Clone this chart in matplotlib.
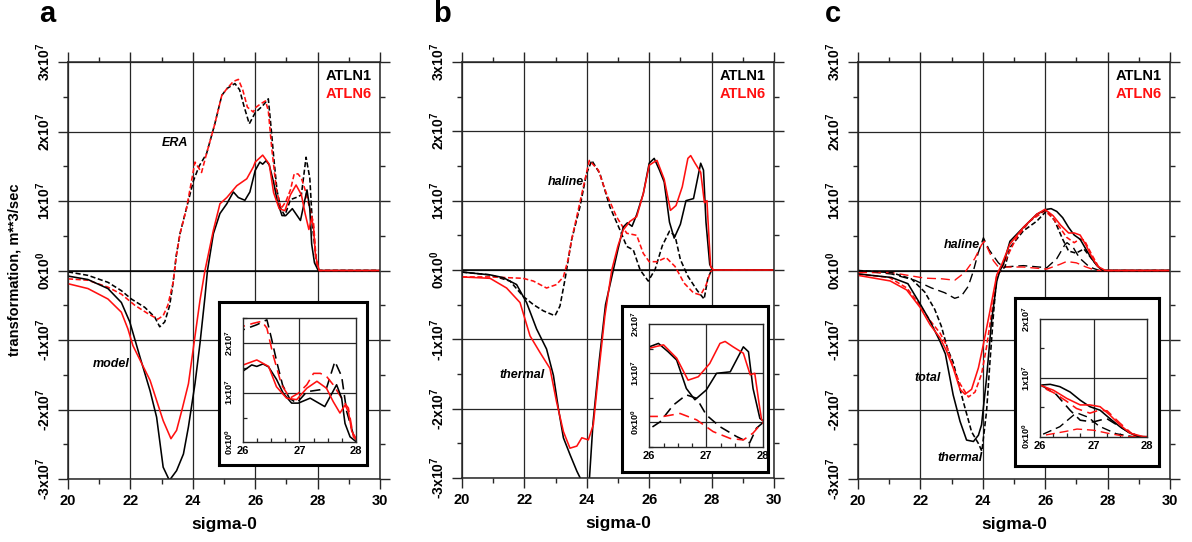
import matplotlib
matplotlib.use("Agg")
import matplotlib.pyplot as plt
from matplotlib.ticker import MultipleLocator, FixedLocator, FuncFormatter

plt.rcParams['font.family'] = ['Liberation Sans', 'DejaVu Sans']
plt.rcParams['font.weight'] = 'bold'
plt.rcParams['mathtext.fontset'] = 'custom'
plt.rcParams['mathtext.rm'] = 'Liberation Sans:bold'
plt.rcParams['mathtext.it'] = 'Liberation Sans:bold:italic'
plt.rcParams['mathtext.bf'] = 'Liberation Sans:bold'
plt.rcParams['mathtext.default'] = 'rm'

# ---------------- data (values in units of 1e7 m**3/sec) ----------------
# Panel a: model (solid) and ERA (dashed)
a_model_atln1_x = [20, 20.64, 21.28, 21.71, 21.98, 22.31, 22.63, 22.84, 23.05, 23.25, 23.48, 23.7, 23.86,
                   24.07, 24.23, 24.39, 24.47, 24.66, 24.87, 25.09, 25.3, 25.46, 25.67, 25.83, 26.0, 26.15,
                   26.24, 26.35, 26.45, 26.59, 26.71, 26.86, 26.98, 27.19, 27.45, 27.66, 27.75, 27.81,
                   27.9, 28.02, 30]
a_model_atln1_y = [-0.08, -0.13, -0.26, -0.46, -0.74, -1.25, -1.73, -2.11, -2.83, -3.02, -2.88, -2.64, -2.25,
                   -1.63, -1.05, -0.38, 0.0, 0.53, 0.82, 0.96, 1.13, 1.05, 1.01, 1.13, 1.44, 1.56,
                   1.53, 1.58, 1.52, 1.27, 0.99, 0.79, 0.79, 0.89, 0.72, 1.16, 0.89, 0.38,
                   0.11, 0.0, 0.0]
a_model_atln6_x = [20, 20.64, 21.28, 21.71, 21.92, 22.08, 22.31, 22.63, 22.84, 23.05, 23.3, 23.48, 23.65,
                   23.86, 24.05, 24.23, 24.39, 24.66, 24.87, 25.09, 25.41, 25.73, 25.94, 26.0, 26.24,
                   26.45, 26.59, 26.77, 26.95, 27.13, 27.31, 27.48, 27.6, 27.72, 27.81, 27.87, 27.93,
                   28.05, 30]
a_model_atln6_y = [-0.19, -0.26, -0.41, -0.6, -0.84, -1.08, -1.29, -1.58, -1.87, -2.16, -2.42, -2.3, -2.01,
                   -1.63, -1.01, -0.43, 0.0, 0.58, 0.96, 1.05, 1.22, 1.32, 1.49, 1.56, 1.66,
                   1.53, 1.12, 0.89, 0.86, 1.09, 1.23, 1.09, 0.82, 0.59, 0.75, 0.62, 0.22,
                   0.0, 0.0]
a_era_atln1_x = [20, 20.64, 21.28, 21.71, 22.03, 22.46, 22.78, 22.94, 23.1, 23.26, 23.37, 23.47, 23.59,
                 23.8, 24.02, 24.2, 24.44, 24.7, 24.93, 25.1, 25.35, 25.5, 25.65, 25.81, 26.0, 26.24,
                 26.42, 26.5, 26.6, 26.7, 26.82, 26.95, 27.13, 27.37, 27.48, 27.63, 27.75, 27.84,
                 27.96, 28.05, 30]
a_era_atln1_y = [-0.02, -0.07, -0.17, -0.29, -0.41, -0.53, -0.67, -0.81, -0.74, -0.5, -0.17, 0.22, 0.53,
                 0.9, 1.29, 1.5, 1.68, 2.1, 2.52, 2.62, 2.69, 2.6, 2.35, 2.11, 2.27, 2.37,
                 2.47, 2.1, 1.6, 1.15, 0.89, 0.79, 1.02, 1.06, 1.09, 1.63, 1.33, 0.62,
                 0.15, 0.0, 0.0]
a_era_atln6_x = [20, 20.64, 21.28, 21.71, 22.14, 22.56, 22.88, 23.05, 23.2, 23.37, 23.47, 23.59, 23.8,
                 24.07, 24.28, 24.44, 24.7, 24.93, 25.1, 25.3, 25.46, 25.6, 25.75, 25.94, 26.0, 26.18,
                 26.33, 26.42, 26.53, 26.68, 26.83, 26.98, 27.13, 27.25, 27.37, 27.48, 27.6, 27.75,
                 27.83, 27.87, 27.96, 28.05, 30]
a_era_atln6_y = [-0.12, -0.14, -0.24, -0.34, -0.5, -0.62, -0.7, -0.65, -0.5, -0.17, 0.2, 0.53, 0.9,
                 1.56, 1.41, 1.68, 2.1, 2.52, 2.62, 2.72, 2.75, 2.6, 2.35, 2.28, 2.34, 2.4,
                 2.44, 2.3, 1.76, 1.16, 0.89, 0.99, 1.16, 1.39, 1.39, 1.33, 1.16, 0.89,
                 0.75, 0.69, 0.11, 0.0, 0.0]

# Panel b: thermal (solid) and haline (dashed)
b_thermal_atln1_x = [20, 20.9, 21.32, 21.75, 22.07, 22.39, 22.71, 22.93, 23.09, 23.25, 23.46, 23.68, 23.94,
                     24.05, 24.2, 24.4, 24.6, 24.85, 25.0, 25.17, 25.3, 25.45, 25.6, 25.81, 26.0, 26.16,
                     26.33, 26.48, 26.65, 26.8, 27.0, 27.18, 27.42, 27.65, 27.74, 27.82, 27.94, 28.03, 30]
b_thermal_atln1_y = [-0.03, -0.07, -0.11, -0.21, -0.47, -0.85, -1.14, -1.52, -2.0, -2.42, -2.66, -2.9, -3.14,
                     -3.25, -2.2, -1.3, -0.5, 0.0, 0.3, 0.62, 0.68, 0.63, 0.8, 1.1, 1.54, 1.61,
                     1.44, 1.27, 0.69, 0.46, 0.66, 1.0, 1.03, 1.54, 1.44, 0.69, 0.08, 0.0, 0.0]
b_thermal_atln6_x = [20, 20.9, 21.43, 21.86, 22.18, 22.5, 22.82, 23.03, 23.25, 23.46, 23.68, 23.84, 24.05,
                     24.21, 24.37, 24.58, 24.8, 25.0, 25.17, 25.38, 25.6, 25.81, 26.0, 26.13, 26.25,
                     26.48, 26.68, 26.86, 27.06, 27.24, 27.33, 27.47, 27.65, 27.77, 27.85, 27.93, 27.97,
                     28.06, 30]
b_thermal_atln6_y = [-0.1, -0.12, -0.26, -0.47, -0.95, -1.19, -1.42, -1.9, -2.33, -2.57, -2.54, -2.42, -2.45,
                     -2.23, -1.52, -0.66, 0.0, 0.35, 0.58, 0.7, 0.77, 1.1, 1.51, 1.55, 1.58,
                     1.31, 0.86, 0.93, 1.2, 1.61, 1.65, 1.54, 1.41, 0.97, 1.0, 0.35, 0.05,
                     0.0, 0.0]
b_haline_atln1_x = [20, 20.9, 21.54, 21.96, 22.29, 22.61, 22.98, 23.14, 23.3, 23.51, 23.78, 23.99, 24.16,
                    24.42, 24.74, 25.06, 25.28, 25.49, 25.71, 25.97, 26.19, 26.42, 26.65, 26.83, 27.0,
                    27.24, 27.53, 27.76, 27.88, 28.0, 30]
b_haline_atln1_y = [-0.03, -0.07, -0.16, -0.38, -0.5, -0.59, -0.66, -0.52, -0.14, 0.43, 0.91, 1.39, 1.58,
                    1.39, 0.91, 0.58, 0.34, 0.29, 0.0, -0.16, 0.01, 0.35, 0.56, 0.49, 0.15,
                    -0.09, -0.29, -0.42, -0.12, 0.0, 0.0]
b_haline_atln6_x = [20, 20.9, 21.96, 22.29, 22.71, 23.03, 23.25, 23.4, 23.51, 23.84, 24.08, 24.37, 24.63,
                    24.95, 25.28, 25.6, 25.81, 26.0, 26.25, 26.54, 26.83, 27.12, 27.42, 27.65, 27.82,
                    27.97, 28.05, 30]
b_haline_atln6_y = [-0.1, -0.1, -0.12, -0.16, -0.26, -0.21, -0.1, 0.15, 0.43, 1.1, 1.58, 1.44, 1.1,
                    0.77, 0.53, 0.5, 0.24, 0.12, 0.12, 0.18, 0.05, -0.19, -0.33, -0.36, -0.22,
                    -0.02, 0.0, 0.0]

# Panel c: total (solid), thermal (short dash), haline (long dash)
c_total_atln1_x = [20, 21.07, 21.6, 22.03, 22.31, 22.63, 22.8, 23.05, 23.27, 23.48, 23.7, 23.86, 23.96,
                   24.12, 24.28, 24.45, 24.55, 24.66, 24.87, 25.3, 25.73, 26.05, 26.19, 26.37, 26.56,
                   26.75, 26.93, 27.12, 27.3, 27.49, 27.68, 27.86, 30]
c_total_atln1_y = [-0.05, -0.1, -0.19, -0.51, -0.73, -1.02, -1.2, -1.79, -2.17, -2.44, -2.46, -2.37, -2.22,
                   -1.55, -0.73, -0.15, 0.0, 0.09, 0.42, 0.62, 0.81, 0.88, 0.89, 0.85, 0.76,
                   0.62, 0.51, 0.45, 0.31, 0.17, 0.06, 0.0, 0.0]
c_total_atln6_x = [20, 21.03, 21.56, 21.99, 22.31, 22.63, 22.84, 23.05, 23.27, 23.43, 23.64, 23.86, 24.02,
                   24.23, 24.45, 24.61, 24.87, 25.3, 25.73, 25.99, 26.25, 26.5, 26.75, 26.93, 27.12,
                   27.3, 27.49, 27.68, 27.93, 30]
c_total_atln6_y = [-0.07, -0.15, -0.28, -0.53, -0.78, -0.97, -1.16, -1.4, -1.71, -1.78, -1.71, -1.4, -1.06,
                   -0.58, -0.06, 0.09, 0.38, 0.62, 0.81, 0.88, 0.79, 0.65, 0.54, 0.54, 0.51,
                   0.37, 0.2, 0.06, 0.0, 0.0]
c_thermal_atln1_x = [20, 21.07, 21.71, 22.14, 22.46, 22.67, 22.88, 23.05, 23.37, 23.64, 23.86, 23.97, 24.12,
                     24.23, 24.34, 24.45, 24.71, 24.87, 25.3, 25.73, 26.05, 26.3, 26.56, 26.75, 26.99,
                     27.24, 27.49, 27.68, 27.85, 30]
c_thermal_atln1_y = [0.0, -0.03, -0.12, -0.31, -0.56, -0.8, -1.14, -1.32, -1.88, -2.32, -2.49, -2.6, -2.03,
                     -1.31, -0.64, -0.06, 0.05, 0.33, 0.57, 0.71, 0.86, 0.72, 0.45, 0.28, 0.25,
                     0.31, 0.17, 0.06, 0.0, 0.0]
c_thermal_atln6_x = [20, 21.0, 21.56, 21.99, 22.31, 22.63, 22.84, 23.05, 23.27, 23.54, 23.75, 23.96, 24.12,
                     24.28, 24.45, 24.66, 25.09, 25.51, 25.99, 26.25, 26.5, 26.68, 26.93, 27.1, 27.25,
                     27.49, 27.74, 27.9, 30]
c_thermal_atln6_y = [-0.05, -0.1, -0.25, -0.5, -0.72, -0.9, -1.08, -1.39, -1.63, -1.82, -1.75, -1.49, -1.1,
                     -0.62, -0.09, 0.09, 0.48, 0.71, 0.86, 0.75, 0.6, 0.48, 0.4, 0.45, 0.44,
                     0.23, 0.03, 0.0, 0.0]
c_haline_atln1_x = [20, 21.07, 21.82, 22.35, 22.78, 23.1, 23.31, 23.53, 23.69, 23.85, 24.02, 24.2, 24.5,
                    24.66, 25.3, 26.05, 26.37, 26.63, 26.7, 26.9, 27.1, 27.42, 27.74, 30]
c_haline_atln1_y = [0.0, -0.05, -0.14, -0.25, -0.32, -0.4, -0.37, -0.23, -0.02, 0.25, 0.47, 0.3, 0.11,
                    0.05, 0.07, 0.04, 0.17, 0.37, 0.4, 0.33, 0.18, 0.05, 0.0, 0.0]
c_haline_atln6_x = [20, 21.07, 22.14, 22.7, 23.1, 23.42, 23.74, 23.96, 24.05, 24.34, 24.5, 25.3, 26.05,
                    26.48, 26.69, 27.0, 27.31, 27.63, 30]
c_haline_atln6_y = [-0.03, -0.03, -0.11, -0.12, -0.14, -0.03, 0.17, 0.37, 0.42, 0.14, 0.05, 0.05, 0.02,
                    0.09, 0.13, 0.11, 0.05, 0.0, 0.0]

x_ticks = [20, 22, 24, 26, 28, 30]
y_ticks = [-3, -2, -1, 0, 1, 2, 3]
inset_x_ticks = [26, 27, 28]
legend_labels = ['ATLN1', 'ATLN6']
panel_letters = ['a', 'b', 'c']

# ---------------- layout helpers ----------------
W, H = 1192, 542
fig = plt.figure(figsize=(W / 100, H / 100), dpi=100)
RED = '#ff1010'
BLK = '#000000'
FRAME = '#262626'
SHORT = (0, (3.2, 1.6))
LONG = (0, (6.5, 3.5))


def px_axes(x0, x1, ytop, ybot, **kw):
    return fig.add_axes([x0 / W, 1 - ybot / H, (x1 - x0) / W, (ybot - ytop) / H], **kw)


def ylab(v, pos=None):
    v = int(round(v))
    if v == 0:
        return r'0x10$^{0}$'
    return r'%dx10$^{7}$' % v


def style_main(ax):
    ax.set_xlim(20, 30)
    ax.set_ylim(-3, 3)
    ax.xaxis.set_major_locator(FixedLocator(x_ticks))
    ax.xaxis.set_minor_locator(MultipleLocator(1))
    ax.yaxis.set_major_locator(FixedLocator(y_ticks))
    ax.yaxis.set_minor_locator(MultipleLocator(0.5))
    ax.yaxis.set_major_formatter(FuncFormatter(ylab))
    ax.tick_params(which='both', direction='out', top=True, right=True, color=FRAME, width=1.0)
    ax.tick_params(which='major', length=7.5, labelsize=10.5, pad=3)
    ax.tick_params(which='minor', length=3.8)
    ax.tick_params(axis='y', which='major', labelsize=10, labelrotation=90, pad=3)
    for t in ax.get_yticklabels():
        t.set_va('center')
    for s in ax.spines.values():
        s.set_color(FRAME)
        s.set_linewidth(1.1)
    ax.grid(True, which='major', color=FRAME, lw=0.9)
    ax.axhline(0, color=BLK, lw=1.1, zorder=1.5)
    ax.set_axisbelow(True)
    ax.set_xlabel('sigma-0', fontsize=12.5, fontweight='bold', labelpad=7)
    ax.text(0.974, 0.966, legend_labels[0], color=BLK, fontsize=10.5, fontweight='bold',
            ha='right', va='center', transform=ax.transAxes)
    ax.text(0.974, 0.923, legend_labels[1], color=RED, fontsize=10.5, fontweight='bold',
            ha='right', va='center', transform=ax.transAxes)


def make_inset(box, inner, ylim, ygrid, yticks):
    bx = px_axes(*box)
    bx.set_xticks([])
    bx.set_yticks([])
    bx.set_facecolor('white')
    for s in bx.spines.values():
        s.set_linewidth(2.2)
        s.set_color(BLK)
    ax = px_axes(*inner)
    ax.set_xlim(26, 28)
    ax.set_ylim(*ylim)
    ax.xaxis.set_major_locator(FixedLocator(inset_x_ticks))
    ax.xaxis.set_minor_locator(MultipleLocator(0.25))
    ax.yaxis.set_major_locator(FixedLocator(yticks))
    ax.yaxis.set_minor_locator(MultipleLocator(0.5))
    ax.yaxis.set_major_formatter(FuncFormatter(ylab))
    ax.tick_params(which='both', direction='in', color=FRAME, width=0.9)
    ax.tick_params(which='major', length=0, labelsize=8, pad=3)
    ax.tick_params(which='minor', length=3)
    ax.tick_params(axis='y', which='major', labelsize=6.5, labelrotation=90, pad=6)
    for t in ax.get_yticklabels():
        t.set_va('center')
    for s in ax.spines.values():
        s.set_color(FRAME)
        s.set_linewidth(1.0)
    for g in ygrid:
        ax.axhline(g, color=FRAME, lw=0.9, zorder=1)
    ax.axvline(27, color=FRAME, lw=0.9, zorder=1)
    return ax


LW = 1.15

# ---------------- panel a ----------------
axa = px_axes(68, 380, 62, 479)
style_main(axa)
axa.plot(a_era_atln1_x, a_era_atln1_y, color=BLK, lw=LW, ls=SHORT)
axa.plot(a_era_atln6_x, a_era_atln6_y, color=RED, lw=LW, ls=SHORT)
axa.plot(a_model_atln1_x, a_model_atln1_y, color=BLK, lw=LW)
axa.plot(a_model_atln6_x, a_model_atln6_y, color=RED, lw=LW)
axa.text(23.85, 1.83, 'ERA', fontsize=9, fontweight='bold', style='italic', ha='right', va='center')
axa.text(20.8, -1.35, 'model', fontsize=9, fontweight='bold', style='italic', ha='left', va='center')

ia = make_inset((219, 367, 302, 465), (243.3, 355.7, 318.3, 442.3), (0, 2.5), [1, 2], [0, 1, 2])
ia.plot(a_era_atln1_x, a_era_atln1_y, color=BLK, lw=LW, ls=LONG)
ia.plot(a_era_atln6_x, a_era_atln6_y, color=RED, lw=LW, ls=LONG)
ia.plot(a_model_atln1_x, a_model_atln1_y, color=BLK, lw=LW)
ia.plot(a_model_atln6_x, a_model_atln6_y, color=RED, lw=LW)

# ---------------- panel b ----------------
axb = px_axes(462, 774, 62, 478)
style_main(axb)
axb.plot(b_haline_atln1_x, b_haline_atln1_y, color=BLK, lw=LW, ls=SHORT)
axb.plot(b_haline_atln6_x, b_haline_atln6_y, color=RED, lw=LW, ls=SHORT)
axb.plot(b_thermal_atln1_x, b_thermal_atln1_y, color=BLK, lw=LW)
axb.plot(b_thermal_atln6_x, b_thermal_atln6_y, color=RED, lw=LW)
axb.text(23.9, 1.27, 'haline', fontsize=9, fontweight='bold', style='italic', ha='right', va='center')
axb.text(21.2, -1.52, 'thermal', fontsize=9, fontweight='bold', style='italic', ha='left', va='center')

ib = make_inset((622, 768, 306, 472), (649.3, 763.3, 324.3, 446.8), (-0.5, 2), [0, 1], [0, 1, 2])
ib.plot(b_haline_atln1_x, b_haline_atln1_y, color=BLK, lw=LW, ls=LONG)
ib.plot(b_haline_atln6_x, b_haline_atln6_y, color=RED, lw=LW, ls=LONG)
ib.plot(b_thermal_atln1_x, b_thermal_atln1_y, color=BLK, lw=LW)
ib.plot(b_thermal_atln6_x, b_thermal_atln6_y, color=RED, lw=LW)

# ---------------- panel c ----------------
axc = px_axes(858, 1170, 62, 479)
style_main(axc)
axc.plot(c_haline_atln1_x, c_haline_atln1_y, color=BLK, lw=1.0, ls=LONG)
axc.plot(c_haline_atln6_x, c_haline_atln6_y, color=RED, lw=1.0, ls=LONG)
axc.plot(c_thermal_atln1_x, c_thermal_atln1_y, color=BLK, lw=LW, ls=SHORT)
axc.plot(c_thermal_atln6_x, c_thermal_atln6_y, color=RED, lw=LW, ls=SHORT)
axc.plot(c_total_atln1_x, c_total_atln1_y, color=BLK, lw=LW)
axc.plot(c_total_atln6_x, c_total_atln6_y, color=RED, lw=LW)
axc.text(23.9, 0.36, 'haline', fontsize=9, fontweight='bold', style='italic', ha='right', va='center')
axc.text(21.8, -1.54, 'total', fontsize=9, fontweight='bold', style='italic', ha='left', va='center')
axc.text(22.55, -2.7, 'thermal', fontsize=9, fontweight='bold', style='italic', ha='left', va='center')

ic = make_inset((1015, 1159, 298, 466), (1040, 1147.3, 319, 436.7), (0, 2), [1], [0, 1, 2])
ic.plot(c_haline_atln1_x, c_haline_atln1_y, color=BLK, lw=1.0, ls=LONG)
ic.plot(c_haline_atln6_x, c_haline_atln6_y, color=RED, lw=1.0, ls=LONG)
ic.plot(c_thermal_atln1_x, c_thermal_atln1_y, color=BLK, lw=LW, ls=LONG)
ic.plot(c_thermal_atln6_x, c_thermal_atln6_y, color=RED, lw=LW, ls=LONG)
ic.plot(c_total_atln1_x, c_total_atln1_y, color=BLK, lw=LW)
ic.plot(c_total_atln6_x, c_total_atln6_y, color=RED, lw=LW)

# ---------------- figure texts ----------------
fig.text(15 / W, 1 - 270 / H, 'transformation, m**3/sec', rotation=90, fontsize=10.5,
         fontweight='bold', ha='center', va='center')
for letter, xp in zip(panel_letters, [39, 433, 825]):
    fig.text(xp / W, 1 - 22 / H, letter, fontsize=21, fontweight='bold', ha='left', va='baseline')

fig.savefig('out.png', dpi=100)
